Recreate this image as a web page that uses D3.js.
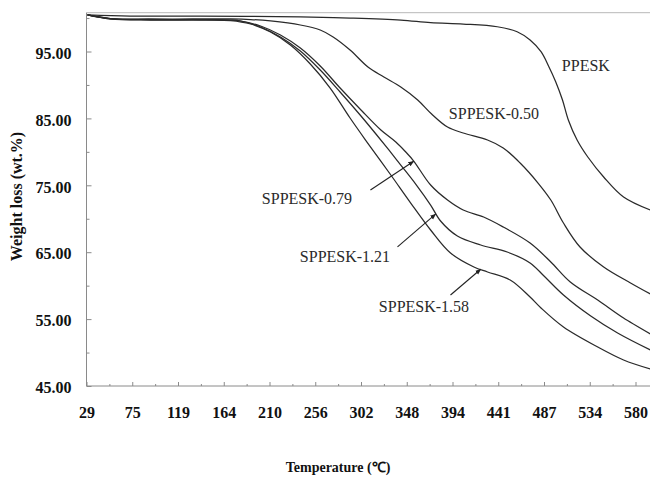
<!DOCTYPE html>
<html>
<head>
<meta charset="utf-8">
<script src="https://cdn.jsdelivr.net/npm/d3@7"></script>
<style>
  html, body { margin: 0; padding: 0; background: #fff; }
  svg { display: block; }
</style>
</head>
<body>
<svg id="chart" width="650" height="480"></svg>
<script>
// Temperature tick labels on the category-style x axis (equally spaced)
const xTickLabels = [29, 75, 119, 164, 210, 256, 302, 348, 394, 441, 487, 534, 580];
// Weight tick labels
const yTickLabels = [45, 55, 65, 75, 85, 95];

// TGA curves: [temperature (°C), residual weight (wt.%)]
const ppesk = [[30,100.46],[73,100.3],[141,100.3],[241,100.16],[291,100.0],[342,99.7],[372,99.3],[405,99.1],
  [440,98.7],[460,97.96],[473,96.72],[484,94.97],[492,92.73],[499,90.49],[506,87.75],[512,84.76],
  [521,81.77],[532,79.23],[548,76.24],[568,73.25],[595,71.3]];
const sppesk050 = [[30,100.46],[53,99.93],[93,99.86],[141,99.86],[171,99.86],[191,99.78],[211,99.56],[241,98.96],
  [261,98.21],[274,97.17],[291,95.22],[309,92.68],[325,91.19],[342,89.69],[359,87.75],[373,85.66],
  [389,83.71],[405,82.82],[430,81.77],[446,80.58],[463,78.33],[481,75.34],[494,72.8],[507,69.36],
  [524,65.78],[548,62.79],[575,60.4],[595,58.75]];
const sppesk079 = [[30,100.46],[53,99.93],[93,99.78],[141,99.78],[171,99.7],[181,99.56],[201,98.81],[221,97.47],
  [241,95.52],[261,92.83],[281,89.54],[302,86.26],[322,83.27],[337,81.47],[347,79.98],[355,78.63],
  [372,75.04],[389,72.8],[405,71.31],[426,70.26],[446,68.77],[473,66.37],[494,63.54],[514,60.55],
  [542,57.85],[568,55.16],[595,52.77]];
const sppesk121 = [[30,100.46],[53,99.86],[93,99.78],[141,99.78],[171,99.7],[181,99.56],[201,98.66],[221,97.17],
  [241,95.07],[261,92.23],[281,88.95],[302,85.36],[317,82.67],[330,80.28],[342,78.03],[357,75.19],
  [372,72.05],[382,69.66],[399,67.42],[423,66.08],[450,65.03],[473,63.39],[487,61.44],[507,58.6],
  [535,55.46],[562,52.92],[595,50.38]];
const sppesk158 = [[30,100.46],[53,99.86],[93,99.7],[141,99.7],[171,99.63],[191,99.11],[211,97.91],[231,95.97],
  [251,93.13],[271,89.54],[291,85.06],[308,81.47],[332,76.54],[352,72.35],[372,68.32],[392,64.88],
  [416,62.79],[430,62.04],[453,60.84],[473,58.3],[484,56.66],[507,53.82],[542,50.83],[568,48.89],[595,47.54]];

const seriesNames = ["PPESK", "SPPESK-0.50", "SPPESK-0.79", "SPPESK-1.21", "SPPESK-1.58"];
const seriesData = [ppesk, sppesk050, sppesk079, sppesk121, sppesk158];

// Curve labels placed directly on the plot: [name, temperature, weight]
const plainLabels = [["PPESK", 530, 92.98], ["SPPESK-0.50", 436.6, 85.81]];
// Labels with arrows: [name, label T, label W, tail T, tail W, tip T, tip W]
const arrowLabels = [
  ["SPPESK-0.79", 247.7, 73.06, 311.5, 74.3, 355, 78.6],
  ["SPPESK-1.21", 285.9, 64.33, 338.7, 65.8, 377, 70.7],
  ["SPPESK-1.58", 365.3, 56.85, 392, 58.6, 423, 62.45]
];

const svg = d3.select("#chart");
const plotLeft = 86.5, plotTop = 12.7, plotBottom = 386, step = 45.75;

// Polylinear x scale: each labelled temperature sits at an equal spacing
const x = d3.scaleLinear()
  .domain(xTickLabels)
  .range(xTickLabels.map((d, i) => plotLeft + i * step));
const y = d3.scaleLinear().domain([45, 100.8]).range([plotBottom, plotTop]);

const serif = "'Liberation Serif', 'Times New Roman', serif";

// frame top line
svg.append("line")
  .attr("x1", plotLeft).attr("x2", 650).attr("y1", plotTop).attr("y2", plotTop)
  .attr("stroke", "#b8b8b8").attr("stroke-width", 1);

// x axis: major ticks with labels, minor ticks between them
const xMinor = d3.pairs(xTickLabels).map(([a, b]) => (a + b) / 2);
const gx = svg.append("g").attr("transform", `translate(0,${plotBottom})`);
gx.call(d3.axisBottom(x).tickValues(xTickLabels).tickFormat(d3.format("d"))
  .tickSize(-4).tickPadding(21));
gx.select(".domain").attr("d", `M${plotLeft},0H650`);
svg.append("g").attr("transform", `translate(0,${plotBottom})`)
  .call(d3.axisBottom(x).tickValues(xMinor).tickFormat("").tickSize(-2))
  .select(".domain").remove();

// y axis: major ticks with labels, minor ticks between them
const yMinor = [50, 60, 70, 80, 90, 100];
const gy = svg.append("g").attr("transform", `translate(${plotLeft},0)`);
gy.call(d3.axisLeft(y).tickValues(yTickLabels).tickFormat(d3.format(".2f"))
  .tickSize(-5).tickPadding(15));
gy.select(".domain").attr("d", `M0,${plotTop}V${plotBottom}`);
svg.append("g").attr("transform", `translate(${plotLeft},0)`)
  .call(d3.axisLeft(y).tickValues(yMinor).tickFormat("").tickSize(-3))
  .select(".domain").remove();

svg.selectAll(".domain").attr("stroke", "#8a8a8a");
svg.selectAll(".tick line").attr("stroke", "#8a8a8a");
svg.selectAll(".tick text")
  .attr("font-family", serif).attr("font-size", 16).attr("font-weight", "bold")
  .attr("fill", "#111");
gy.selectAll(".tick text").attr("dy", "0.42em");

// axis titles
svg.append("text")
  .attr("transform", "translate(22,196.5) rotate(-90)")
  .attr("text-anchor", "middle")
  .attr("font-family", serif).attr("font-size", 16).attr("font-weight", "bold")
  .attr("fill", "#111")
  .text("Weight loss (wt.%)");
svg.append("text")
  .attr("x", 338).attr("y", 472)
  .attr("text-anchor", "middle")
  .attr("font-family", serif).attr("font-size", 14).attr("font-weight", "bold")
  .attr("fill", "#111")
  .text("Temperature (℃)");

// curves, smoothed through the sampled points
const line = d3.line().x(d => x(d[0])).y(d => y(d[1])).curve(d3.curveCatmullRom.alpha(0.5));
svg.append("g").selectAll("path")
  .data(seriesData)
  .join("path")
  .attr("d", line)
  .attr("fill", "none")
  .attr("stroke", "#2a2a2a")
  .attr("stroke-width", 1.25);

// arrowhead marker
svg.append("defs").append("marker")
  .attr("id", "arrowhead")
  .attr("viewBox", "0 0 10 10")
  .attr("refX", 9).attr("refY", 5)
  .attr("markerWidth", 6).attr("markerHeight", 6)
  .attr("markerUnits", "userSpaceOnUse")
  .attr("orient", "auto")
  .append("path").attr("d", "M0,1L10,5L0,9Z").attr("fill", "#222");

const labelStyle = sel => sel
  .attr("font-family", serif).attr("font-size", 16)
  .attr("fill", "#2a2a2a").attr("text-anchor", "middle")
  .attr("dy", "0.35em");

svg.append("g").selectAll("text")
  .data(plainLabels)
  .join("text")
  .attr("x", d => x(d[1])).attr("y", d => y(d[2]))
  .call(labelStyle)
  .text(d => d[0]);

const ann = svg.append("g").selectAll("g").data(arrowLabels).join("g");
ann.append("line")
  .attr("x1", d => x(d[3])).attr("y1", d => y(d[4]))
  .attr("x2", d => x(d[5])).attr("y2", d => y(d[6]))
  .attr("stroke", "#222").attr("stroke-width", 1.1)
  .attr("marker-end", "url(#arrowhead)");
ann.append("text")
  .attr("x", d => x(d[1])).attr("y", d => y(d[2]))
  .call(labelStyle)
  .text(d => d[0]);
</script>
</body>
</html>
